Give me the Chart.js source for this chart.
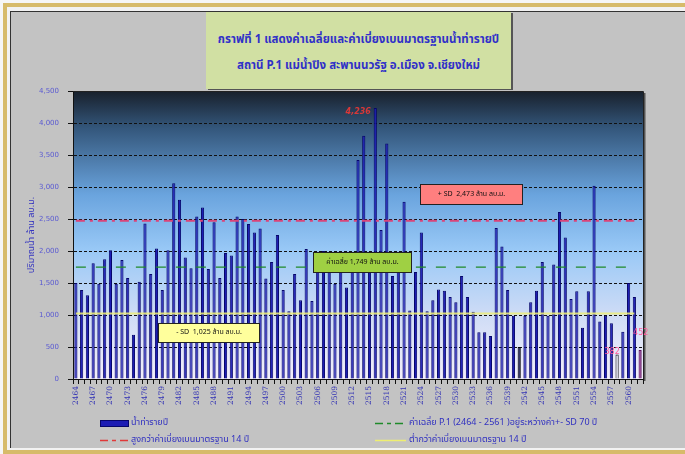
<!DOCTYPE html>
<html><head><meta charset="utf-8">
<script src="https://cdn.jsdelivr.net/npm/chart.js@4.4.1/dist/chart.umd.min.js"></script>
<style>
body{margin:0;width:685px;height:454px;overflow:hidden;background:#f6f6f6;font-family:"Noto Sans Thai","Noto Sans","DejaVu Sans",sans-serif;position:relative}
#frame{position:absolute;left:3px;top:3px;width:690px;height:443px;border-left:4px solid #d7bb6a;border-top:4px solid #d7bb6a;border-bottom:4px solid #d7bb6a;background:#f2f2f2}
#inner{position:absolute;left:10px;top:11px;width:680px;height:436px;background:#c3c3c3;border-left:1px solid #333;border-top:1px solid #333}
#c{position:absolute;left:0;top:0}
#title{position:absolute;left:206px;top:12px;width:305px;height:77px;background:#d1e0a3;box-shadow:2px 1px 0 #555;color:#3030c8;text-align:center;font-size:11.5px;font-weight:bold}
#title div{position:absolute;left:0;width:100%;white-space:nowrap}
.lg{position:absolute;font-size:9px;color:#3030c0;white-space:nowrap;line-height:12px}
.lg svg{position:absolute;left:0;top:0}
</style></head>
<body>
<div id="frame"></div>
<div id="inner"></div>
<div id="title"><div style="top:19px">กราฟที่ 1 แสดงค่าเฉลี่ยและค่าเบี่ยงเบนมาตรฐานน้ำท่ารายปี</div><div style="top:45px">สถานี P.1 แม่น้ำปิง สะพานนวรัฐ อ.เมือง จ.เชียงใหม่</div></div>
<canvas id="c" width="685" height="454"></canvas>
<div class="lg" style="left:100px;top:417px;width:200px;height:12px"><svg width="30" height="12"><rect x="0.5" y="3.5" width="28" height="6" fill="#1c1cb4" stroke="#06066a"/></svg><span style="position:absolute;left:31px;top:-1px">น้ำท่ารายปี</span></div>
<div class="lg" style="left:100px;top:434px;width:220px;height:12px"><svg width="30" height="12"><line x1="0" y1="6.5" x2="29" y2="6.5" stroke="#e03a3a" stroke-width="1.5" stroke-dasharray="8,4,4,4"/></svg><span style="position:absolute;left:31px;top:-1px">สูงกว่าค่าเบี่ยงเบนมาตรฐาน 14 ปี</span></div>
<div class="lg" style="left:375px;top:417px;width:300px;height:12px"><svg width="32" height="12"><line x1="0" y1="6.5" x2="31" y2="6.5" stroke="#1f8a2a" stroke-width="1.5" stroke-dasharray="8,4,4,4"/></svg><span style="position:absolute;left:34px;top:-1px">ค่าเฉลี่ย P.1 (2464 - 2561 )อยู่ระหว่างค่า+- SD 70 ปี</span></div>
<div class="lg" style="left:375px;top:434px;width:220px;height:12px"><svg width="32" height="12"><line x1="0" y1="6.5" x2="31" y2="6.5" stroke="#eeee70" stroke-width="1.5"/></svg><span style="position:absolute;left:34px;top:-1px">ต่ำกว่าค่าเบี่ยงเบนมาตรฐาน 14 ปี</span></div>
<script>
// ---- data ----
const years = [2464,2465,2466,2467,2468,2469,2470,2471,2472,2473,2474,2475,2476,2477,2478,2479,2480,2481,2482,2483,
2484,2485,2486,2487,2488,2489,2490,2491,2492,2493,2494,2495,2496,2497,2498,2499,2500,2501,2502,2503,
2504,2505,2506,2507,2508,2509,2510,2511,2512,2513,2514,2515,2516,2517,2518,2519,2520,2521,2522,2523,
2524,2525,2526,2527,2528,2529,2530,2531,2532,2533,2534,2535,2536,2537,2538,2539,2540,2541,2542,2543,
2544,2545,2546,2547,2548,2549,2550,2551,2552,2553,2554,2555,2556,2557,2558,2559,2560,2561,2562];
const annualRunoff = [1500,1390,1310,1810,1490,1870,2010,1490,1860,1580,690,1520,2430,1640,2040,1390,2010,3060,2800,1900,
1730,2540,2680,1720,2450,1580,1970,1930,2540,2500,2420,2290,2350,1570,1830,2250,1390,1060,1640,1230,
2030,1220,1800,2000,1750,1490,1700,1430,1700,3420,3800,1800,4236,2330,3680,1610,1700,2770,1070,1670,
2290,1060,1230,1400,1380,1280,1200,1610,1280,1050,730,730,670,2360,2070,1390,990,500,990,1200,
1380,1830,990,1790,2610,2210,1250,1370,800,1370,3020,900,990,870,382,740,1500,1280,452];
const MEAN_VALUE = 1749;
const SD_PLUS = 2473;
const SD_MINUS = 1025;
const LINE_START = '2464', LINE_END = '2561';
const yTicks = [0,500,1000,1500,2000,2500,3000,3500,4000,4500];
const labels = years.map(String);
const fmt = v => v.toLocaleString('en-US');

const bgPlugin = {
  id: 'bg',
  beforeDraw(chart) {
    const {ctx, chartArea: a} = chart;
    const g = ctx.createLinearGradient(0, a.top, 0, a.bottom);
    g.addColorStop(0, '#18202b');
    g.addColorStop(0.13, '#34577c');
    g.addColorStop(0.36, '#6aa4de');
    g.addColorStop(0.55, '#98c8f6');
    g.addColorStop(0.78, '#cfdcf6');
    g.addColorStop(1, '#f3effa');
    ctx.save();
    ctx.fillStyle = g;
    ctx.fillRect(a.left, a.top, a.right - a.left, a.bottom - a.top);
    ctx.restore();
  },
  afterDatasetsDraw(chart) {
    const {ctx, chartArea: a, scales: {x, y}} = chart;
    ctx.save();
    ctx.strokeStyle = '#222'; ctx.lineWidth = 1;
    ctx.beginPath();
    ctx.moveTo(a.left, a.top + 0.5); ctx.lineTo(a.right + 0.5, a.top + 0.5); ctx.lineTo(a.right + 0.5, a.bottom);
    ctx.stroke();
    ctx.fillStyle = '#555';
    ctx.fillRect(a.right + 1, a.top + 2, 1.5, a.bottom - a.top);
    const box = (i0, i1, vTop, vBot, fill, text) => {
      const l = Math.round(x.getPixelForValue(i0)) + 0.5, r = Math.round(x.getPixelForValue(i1)) + 0.5;
      const t = Math.round(y.getPixelForValue(vTop)) + 0.5, b = Math.round(y.getPixelForValue(vBot)) + 0.5;
      ctx.fillStyle = fill; ctx.fillRect(l, t, r - l, b - t);
      ctx.strokeStyle = '#222'; ctx.lineWidth = 1; ctx.strokeRect(l, t, r - l, b - t);
      ctx.fillStyle = '#111'; ctx.font = '7px "Noto Sans Thai","DejaVu Sans",sans-serif';
      ctx.textAlign = 'center'; ctx.textBaseline = 'middle';
      ctx.fillText(text, (l + r) / 2, (t + b) / 2);
    };
    box(14.3, 31.8, 875, 578, '#ffff9c', '- SD  ' + fmt(SD_MINUS) + ' ล้าน ลบ.ม.');
    box(41.2, 58.2, 1984, 1672, '#9fd043', 'ค่าเฉลี่ย ' + fmt(MEAN_VALUE) + ' ล้าน ลบ.ม.');
    box(59.8, 77.5, 3047, 2734, '#ff7f7f', '+ SD  ' + fmt(SD_PLUS) + ' ล้าน ลบ.ม.');
    const iMax = annualRunoff.indexOf(Math.max(...annualRunoff));
    ctx.font = 'italic bold 8px "DejaVu Sans",sans-serif';
    ctx.fillStyle = '#d83838'; ctx.textAlign = 'center'; ctx.textBaseline = 'middle';
    ctx.fillText(fmt(annualRunoff[iMax]), x.getPixelForValue(iMax) - 17, y.getPixelForValue(4170));
    ctx.font = '8px "DejaVu Sans",sans-serif';
    ctx.fillStyle = '#ff5a9a';
    const i58 = years.indexOf(2558), i62 = years.indexOf(2562);
    ctx.fillText(String(annualRunoff[i58]), x.getPixelForValue(i58) - 5, y.getPixelForValue(420));
    ctx.textAlign = 'left';
    ctx.fillText(String(annualRunoff[i62]), x.getPixelForValue(i62) - 7, y.getPixelForValue(720));
    ctx.restore();
  }
};

const barColor = c => {
  const yr = years[c.dataIndex];
  if (yr === 2562) return '#7a1f7a';
  if (yr === 2558) return '#e6e6f6';
  if (yr === 2541) return '#14144c';
  return '#1c1cb4';
};
const barBorder = c => {
  const yr = years[c.dataIndex];
  if (yr === 2562) return '#5a0f5a';
  if (yr === 2558 || yr === 2541) return '#000';
  return '#06066a';
};

new Chart(document.getElementById('c'), {
  type: 'bar',
  data: {
    labels: labels,
    datasets: [
      {type:'line', label:'+SD', data:[{x:LINE_START,y:SD_PLUS},{x:LINE_END,y:SD_PLUS}], borderColor:'#d9457a', borderWidth:2, borderDash:[9,5,3,5], pointRadius:0, order:0},
      {type:'line', label:'mean', data:[{x:LINE_START,y:MEAN_VALUE},{x:LINE_END,y:MEAN_VALUE}], borderColor:'#1f8a2a', borderWidth:1.2, borderDash:[10,10], pointRadius:0, order:0},
      {type:'line', label:'-SD', data:[{x:LINE_START,y:SD_MINUS},{x:LINE_END,y:SD_MINUS}], borderColor:'rgba(240,240,120,0.85)', borderWidth:2, pointRadius:0, order:0},
      {type:'bar', label:'น้ำท่ารายปี', data: annualRunoff, backgroundColor: barColor, borderColor: barBorder, borderWidth: 1, barPercentage: 0.55, categoryPercentage: 1, order: 1}
    ]
  },
  options: {
    responsive: false, animation: false, devicePixelRatio: 1,
    layout: {padding: {top: 91, right: 42, left: 0, bottom: 0}},
    plugins: {legend: {display: false}, tooltip: {enabled: false}},
    scales: {
      x: {
        offset: true,
        grid: {display: true, drawOnChartArea: false, tickLength: 5, color: '#111', offset: true},
        border: {color: '#111'},
        ticks: {
          autoSkip: false, minRotation: 90, maxRotation: 90, padding: 2,
          color: '#3535b5', font: {family: '"DejaVu Serif","Liberation Serif",serif', size: 7.5},
          callback: (v, i) => (i % 3 === 0 ? labels[i] : '')
        },
        afterFit: s => { s.height = 75; }
      },
      y: {
        min: 0, max: 4500,
        afterBuildTicks: s => { s.ticks = yTicks.map(v => ({value: v})); },
        grid: {color: (c) => c.tick && c.tick.value === 0 ? 'rgba(0,0,0,0)' : '#111', tickLength: 5, tickColor: '#111', tickBorderDash: [], drawTicks: true},
        border: {color: '#111', dash: [3, 2]},
        ticks: {color: '#5a5ad2', font: {family: '"DejaVu Sans",sans-serif', size: 7}, padding: 9, callback: v => fmt(v)},
        title: {display: true, text: 'ปริมาณน้ำ ล้าน ลบ.ม.', color: '#3535c0', font: {family: '"Noto Sans Thai","DejaVu Sans",sans-serif', size: 9}, padding: {top: 27, bottom: 0}},
        afterFit: s => { s.width = 73; }
      }
    }
  },
  plugins: [bgPlugin]
});
</script>
</body></html>
